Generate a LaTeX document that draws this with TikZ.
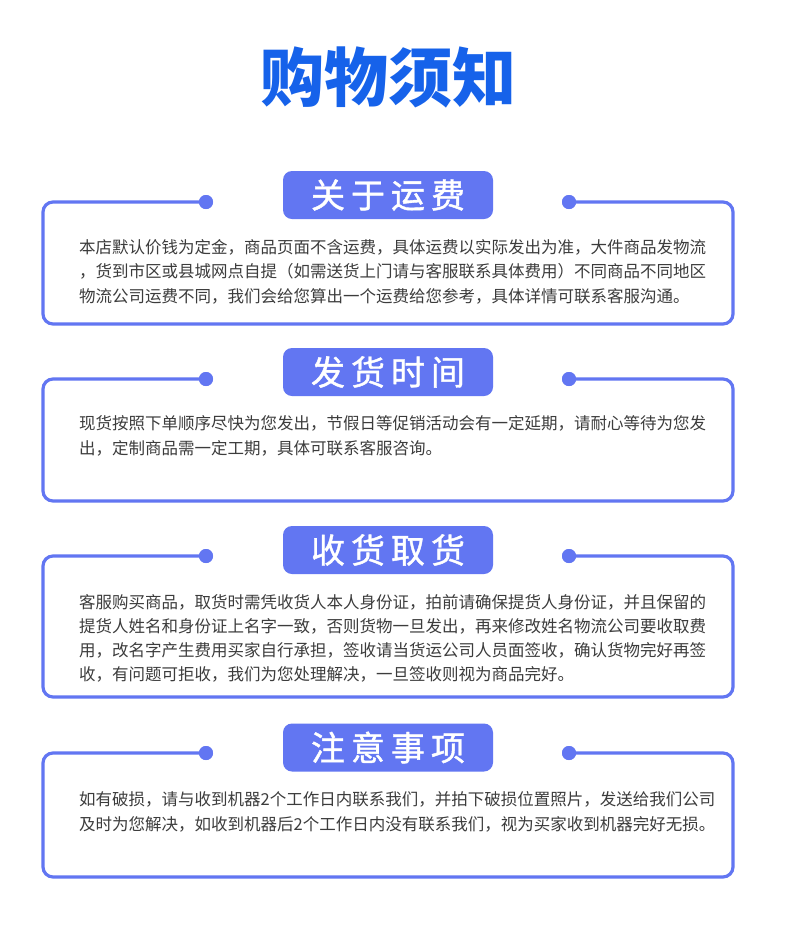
\documentclass[tikz,border=0pt]{standalone}
\usepackage{fontspec}
\setmainfont{Noto Sans CJK SC}
\newfontfamily\headfont[FakeBold=1.2]{Noto Sans CJK SC}
\definecolor{frameblue}{HTML}{6276F2}
\definecolor{titleblue}{HTML}{1662EA}
\definecolor{bodygray}{HTML}{3C3C3C}
\newcommand\hsp{\hspace{6pt}}
\tikzset{
 boxframe/.style={draw=frameblue, line width=3.2pt, rounded corners=10pt},
 dotmark/.style={circle, fill=frameblue, minimum size=14pt, inner sep=0pt},
 headbox/.style={fill=frameblue, rounded corners=9pt, minimum width=210pt, minimum height=48pt, text=white, font=\headfont\fontsize{34}{34}\selectfont, inner sep=0pt},
 bodytext/.style={anchor=base west, inner sep=0pt, text=bodygray, font=\fontsize{16.5}{20}\selectfont},
}
\begin{document}
\begin{tikzpicture}[x=1pt,y=-1pt]
\fill[white] (0,0) rectangle (790,930);
\useasboundingbox (0,0) rectangle (790,930);

% title
\node[text=titleblue, font=\fontsize{64}{64}\selectfont\bfseries, inner sep=0pt] (title) at (388,77) {购物须知};

% ---------- section 1 ----------
\node[dotmark] (dL1) at (206,202) {};
\node[dotmark] (dR1) at (569,202) {};
\draw[boxframe] (dL1.center) -- (43,202) -- (43,324) -- (733,324) -- (733,202) -- (dR1.center);
\node[dotmark] at (dL1) {};
\node[dotmark] at (dR1) {};
\node[headbox] (h1) at (388,195) {关\hsp 于\hsp 运\hsp 费};
\node[bodytext] (t11) at (79,253) {本店默认价钱为定金，商品页面不含运费，具体运费以实际发出为准，大件商品发物流};
\node[bodytext] (t12) at (79,277.5) {，货到市区或县城网点自提（如需送货上门请与客服联系具体费用）不同商品不同地区};
\node[bodytext] (t13) at (79,302) {物流公司运费不同，我们会给您算出一个运费给您参考，具体详情可联系客服沟通。};

% ---------- section 2 ----------
\node[dotmark] (dL2) at (206,379) {};
\node[dotmark] (dR2) at (569,379) {};
\draw[boxframe] (dL2.center) -- (43,379) -- (43,501) -- (733,501) -- (733,379) -- (dR2.center);
\node[dotmark] at (dL2) {};
\node[dotmark] at (dR2) {};
\node[headbox] (h2) at (388,372) {发\hsp 货\hsp 时\hsp 间};
\node[bodytext] (t21) at (79,429) {现货按照下单顺序尽快为您发出，节假日等促销活动会有一定延期，请耐心等待为您发};
\node[bodytext] (t22) at (79,454) {出，定制商品需一定工期，具体可联系客服咨询。};

% ---------- section 3 ----------
\node[dotmark] (dL3) at (206,556) {};
\node[dotmark] (dR3) at (569,556) {};
\draw[boxframe] (dL3.center) -- (43,556) -- (43,697) -- (733,697) -- (733,556) -- (dR3.center);
\node[dotmark] at (dL3) {};
\node[dotmark] at (dR3) {};
\node[headbox] (h3) at (388,550) {收\hsp 货\hsp 取\hsp 货};
\node[bodytext] (t31) at (79,608) {客服购买商品，取货时需凭收货人本人身份证，拍前请确保提货人身份证，并且保留的};
\node[bodytext] (t32) at (79,632) {提货人姓名和身份证上名字一致，否则货物一旦发出，再来修改姓名物流公司要收取费};
\node[bodytext] (t33) at (79,656) {用，改名字产生费用买家自行承担，签收请当货运公司人员面签收，确认货物完好再签};
\node[bodytext] (t34) at (79,680) {收，有问题可拒收，我们为您处理解决，一旦签收则视为商品完好。};

% ---------- section 4 ----------
\node[dotmark] (dL4) at (206,753) {};
\node[dotmark] (dR4) at (569,753) {};
\draw[boxframe] (dL4.center) -- (43,753) -- (43,877) -- (733,877) -- (733,753) -- (dR4.center);
\node[dotmark] at (dL4) {};
\node[dotmark] at (dR4) {};
\node[headbox] (h4) at (388,747.5) {注\hsp 意\hsp 事\hsp 项};
\node[bodytext] (t41) at (79,805) {如有破损，请与收到机器2个工作日内联系我们，并拍下破损位置照片，发送给我们公司};
\node[bodytext] (t42) at (79,830.5) {及时为您解决，如收到机器后2个工作日内没有联系我们，视为买家收到机器完好无损。};
\end{tikzpicture}
\end{document}
